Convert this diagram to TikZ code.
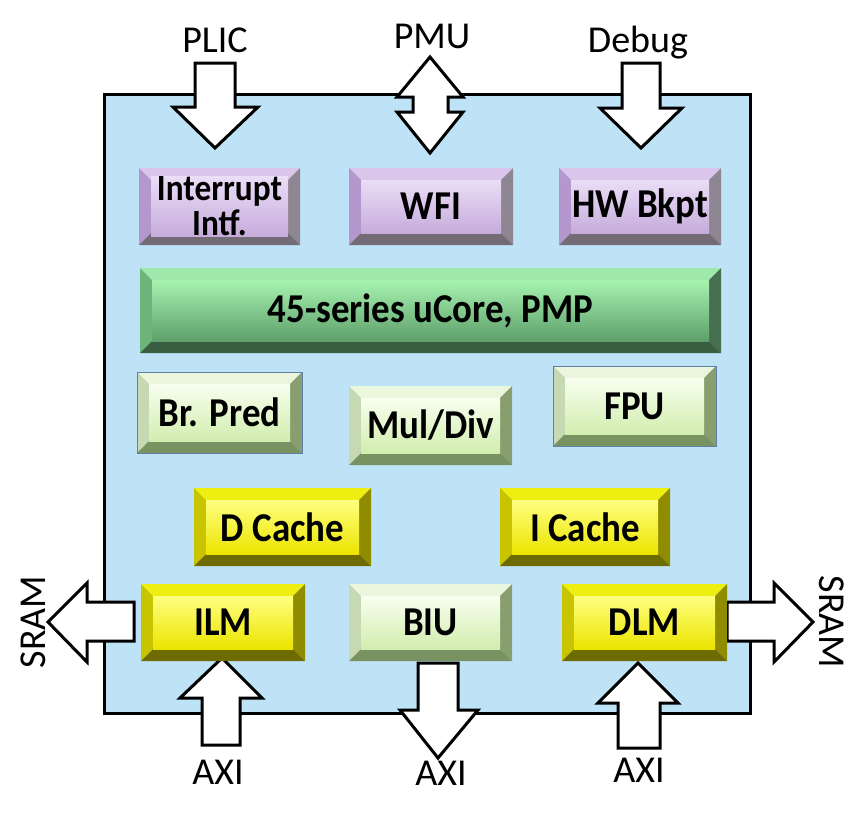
\documentclass[tikz,border=0pt]{standalone}
\usepackage{fontspec}
\setmainfont{Carlito}
\newfontfamily\boxfont[FakeStretch=0.9]{Carlito}
\definecolor{bgblue}{HTML}{BEE3F7}
\definecolor{purT}{HTML}{D9C6EA}\definecolor{purL}{HTML}{B497CC}\definecolor{purR}{HTML}{8E8693}\definecolor{purB}{HTML}{736C77}
\definecolor{purF1}{HTML}{EADDF6}\definecolor{purF2}{HTML}{C6ACDB}
\definecolor{grnT}{HTML}{9EE9A9}\definecolor{grnL}{HTML}{6DB57B}\definecolor{grnR}{HTML}{456F4E}\definecolor{grnB}{HTML}{3A5C40}
\definecolor{grnF1}{HTML}{A6F3B0}\definecolor{grnF2}{HTML}{5E9F6A}
\definecolor{lgT}{HTML}{EAF7DC}\definecolor{lgL}{HTML}{C7D9B2}\definecolor{lgR}{HTML}{889E6E}\definecolor{lgB}{HTML}{789262}
\definecolor{lgF1}{HTML}{F7FFEF}\definecolor{lgF2}{HTML}{D2EDAE}
\definecolor{yelT}{HTML}{EEEE10}\definecolor{yelL}{HTML}{C9C400}\definecolor{yelR}{HTML}{8F8C00}\definecolor{yelB}{HTML}{6E6B00}
\definecolor{yelF1}{HTML}{FFFF80}\definecolor{yelF2}{HTML}{EBE400}
\definecolor{edgeblue}{HTML}{5F7FA8}
\def\bvw{12}
\tikzset{
  face/.style={inner sep=0pt, align=center, font=\boxfont\fontsize{41}{33}\selectfont\bfseries},
  purF/.style={face, top color=purF1, bottom color=purF2},
  grnF/.style={face, top color=grnF1, bottom color=grnF2},
  lgF/.style={face, top color=lgF1, bottom color=lgF2},
  yelF/.style={face, top color=yelF1, bottom color=yelF2},
  twoline/.style={font=\boxfont\fontsize{37}{35}\selectfont\bfseries},
  blockarrow/.style={draw=black, fill=white, line width=3pt, line join=miter},
  extlabel/.style={font=\fontsize{38}{38}\selectfont, inner sep=0pt},
  edgeline/.style={draw=edgeblue, line width=0.8pt}
}
\newcommand{\bevbox}[8][]{%
  \fill[#7T] (#3,#4) -- (#5,#4) -- ({#5-\bvw},{#4+\bvw}) -- ({#3+\bvw},{#4+\bvw}) -- cycle;
  \fill[#7L] (#3,#4) -- ({#3+\bvw},{#4+\bvw}) -- ({#3+\bvw},{#6-\bvw}) -- (#3,#6) -- cycle;
  \fill[#7R] (#5,#4) -- (#5,#6) -- ({#5-\bvw},{#6-\bvw}) -- ({#5-\bvw},{#4+\bvw}) -- cycle;
  \fill[#7B] (#3,#6) -- (#5,#6) -- ({#5-\bvw},{#6-\bvw}) -- ({#3+\bvw},{#6-\bvw}) -- cycle;
  \node[#7F, minimum width={#5-#3-2*\bvw}, minimum height={#6-#4-2*\bvw}, #1] (#2) at ({(#3+#5)/2},{(#4+#6)/2}) {#8};
}
\begin{document}
\begin{tikzpicture}[x=1pt,y=-1pt]
\useasboundingbox (0,0) rectangle (865,819);
% main block
\draw[fill=bgblue, line width=3pt] (104,94) rectangle (750,713);
% top arrows
\draw[blockarrow] (195,63) -- (235,63) -- (235,107) -- (258,107) -- (215,148) -- (173,107) -- (195,107) -- cycle;
\draw[blockarrow] (430,57) -- (463,97) -- (448,97) -- (448,112) -- (463,112) -- (430,153) -- (397,112) -- (413,112) -- (413,97) -- (397,97) -- cycle;
\draw[blockarrow] (622,63) -- (660,63) -- (660,108) -- (682,108) -- (641,148) -- (600,108) -- (622,108) -- cycle;
% bottom arrows
\draw[blockarrow] (222,658) -- (262,698) -- (240,698) -- (240,745) -- (202,745) -- (202,698) -- (180,698) -- cycle;
\draw[blockarrow] (418,663) -- (458,663) -- (458,710) -- (478,710) -- (438,758) -- (400,710) -- (418,710) -- cycle;
\draw[blockarrow] (638,663) -- (678,703) -- (660,703) -- (660,748) -- (618,748) -- (618,703) -- (598,703) -- cycle;
% side arrows
\draw[blockarrow] (48,622) -- (87,583) -- (87,602) -- (134,602) -- (134,641) -- (87,641) -- (87,662) -- cycle;
\draw[blockarrow] (813,622) -- (774,583) -- (774,602) -- (727,602) -- (727,641) -- (774,641) -- (774,662) -- cycle;
% labels
\node[extlabel] (lplic) at (215,40) {PLIC};
\node[extlabel] (lpmu) at (432,36) {PMU};
\node[extlabel] (ldebug) at (638,43) {Debug};
\node[extlabel] (laxi1) at (218,772) {AXI};
\node[extlabel] (laxi2) at (441,773) {AXI};
\node[extlabel] (laxi3) at (639,770) {AXI};
\node[extlabel, rotate=90] (lsram1) at (33,622) {SRAM};
\node[extlabel, rotate=-90] (lsram2) at (832,622) {SRAM};
% blocks
\bevbox[twoline]{intr}{139}{168}{300}{245}{pur}{Interrupt\\Intf.}
\bevbox{wfi}{349}{168}{513}{245}{pur}{WFI}
\bevbox{hwb}{559}{168}{721}{245}{pur}{HW Bkpt}
\bevbox{core}{140}{268}{721}{353}{grn}{45-series uCore, PMP}
\bevbox{brp}{137}{372}{302}{453}{lg}{Br. Pred}
\draw[edgeline] (137,372) rectangle (302,453);
\bevbox{mul}{349}{386}{512}{465}{lg}{Mul/Div}
\bevbox{fpu}{553}{366}{716}{446}{lg}{FPU}
\draw[edgeline] (553,366) rectangle (716,446);
\bevbox{dc}{194}{488}{371}{566}{yel}{D Cache}
\bevbox{ic}{500}{488}{670}{566}{yel}{I Cache}
\bevbox{ilm}{141}{584}{305}{661}{yel}{ILM}
\bevbox{biu}{349}{584}{512}{661}{lg}{BIU}
\bevbox{dlm}{562}{584}{727}{661}{yel}{DLM}
\end{tikzpicture}
\end{document}
